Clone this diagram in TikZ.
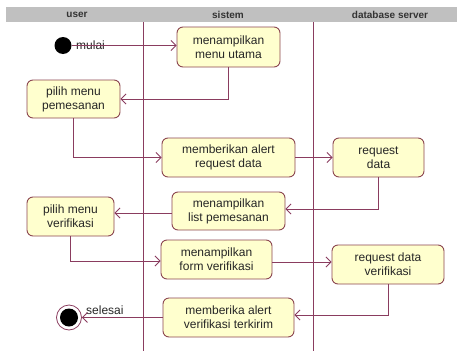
\documentclass[tikz,border=0pt]{standalone}
\usepackage{fontspec}
\setmainfont{Liberation Sans}
\usetikzlibrary{arrows.meta,positioning}
\definecolor{laneline}{RGB}{138,60,95}
\definecolor{actfill}{RGB}{255,255,206}
\definecolor{actborder}{RGB}{140,70,80}
\definecolor{headgray}{RGB}{192,192,192}
\tikzset{
  activity/.style={draw=actborder, fill=actfill, rounded corners=6pt, line width=0.9pt,
    align=center, inner sep=0pt, font=\fontsize{12}{14}\selectfont, text=black!85},
  flow/.style={draw=laneline, line width=0.8pt, -{Straight Barb[length=5pt,width=10pt]}},
  lane/.style={draw=laneline, line width=1pt},
  headtext/.style={font=\fontsize{10}{12}\selectfont\bfseries, text=black!80},
  smalllabel/.style={font=\fontsize{12}{14}\selectfont, text=black!85, inner sep=0pt}
}
\begin{document}
\begin{tikzpicture}[x=1pt,y=-1pt]
  \useasboundingbox (0,0) rectangle (457,351);
  \fill[white] (0,0) rectangle (457,351);

  % swimlane header and separators
  \fill[headgray] (6,7) rectangle (457,22);
  \node[headtext] (hUser) at (77,14.5) {user};
  \node[headtext] (hSys) at (228,14.5) {sistem};
  \node[headtext] (hDb) at (390,14.5) {database server};
  \draw[lane] (143,22) -- (143,351);
  \draw[lane] (313,22) -- (313,351);

  % activities
  \node[activity, minimum width=103pt, minimum height=40pt] (n1) at (228.5,47) {menampilkan\\menu utama};
  \node[activity, minimum width=93pt, minimum height=38pt] (n2) at (73.5,99) {pilih menu\\pemesanan};
  \node[activity, minimum width=133pt, minimum height=39pt] (n3) at (228.5,157.5) {memberikan alert\\request data};
  \node[activity, minimum width=91pt, minimum height=39pt] (n4) at (378.5,157.5) {request\\data};
  \node[activity, minimum width=113pt, minimum height=38pt] (n5) at (228.5,211) {menampilkan\\list pemesanan};
  \node[activity, minimum width=87pt, minimum height=39pt] (n6) at (70.5,216.5) {pilih menu\\verifikasi};
  \node[activity, minimum width=111pt, minimum height=39pt] (n7) at (216.5,259.5) {menampilkan\\form verifikasi};
  \node[activity, minimum width=112pt, minimum height=39pt] (n8) at (388,264.5) {request data\\verifikasi};
  \node[activity, minimum width=131pt, minimum height=39pt] (n9) at (228.5,317.5) {memberika alert\\verifikasi terkirim};

  % start and end states
  \node[circle, fill=black, minimum size=17pt, inner sep=0pt] (start) at (63,45.5) {};
  \node[circle, draw=laneline, fill=white, line width=0.8pt, minimum size=25pt, inner sep=0pt] (stop) at (69,317.5) {};
  \node[circle, fill=black, minimum size=18pt, inner sep=0pt] (stopdot) at (stop.center) {};
  \node[smalllabel, anchor=west] (lblStart) at (76,45.5) {mulai};
  \node[smalllabel, anchor=west] (lblStop) at (86,310.5) {selesai};

  % control flow
  \draw[flow] (start) -- (start -| n1.west);
  \draw[flow] (n1.south) |- (n2.east);
  \draw[flow] (n2.south) |- (n3.west);
  \draw[flow] (n3.east) -- (n4.west);
  \draw[flow] (n4.south) |- ([yshift=2pt]n5.east);
  \draw[flow] ([yshift=-2pt]n5.west) -- ([yshift=-2pt]n5.west -| n6.east);
  \draw[flow] (n6.south) |- ([yshift=-1.5pt]n7.west);
  \draw[flow] ([yshift=-2.5pt]n7.east) -- ([yshift=2.5pt]n8.west);
  \draw[flow] (n8.south) |- ([yshift=2.5pt]n9.east);
  \draw[flow] (n9.west) -- (stop);
\end{tikzpicture}
\end{document}
